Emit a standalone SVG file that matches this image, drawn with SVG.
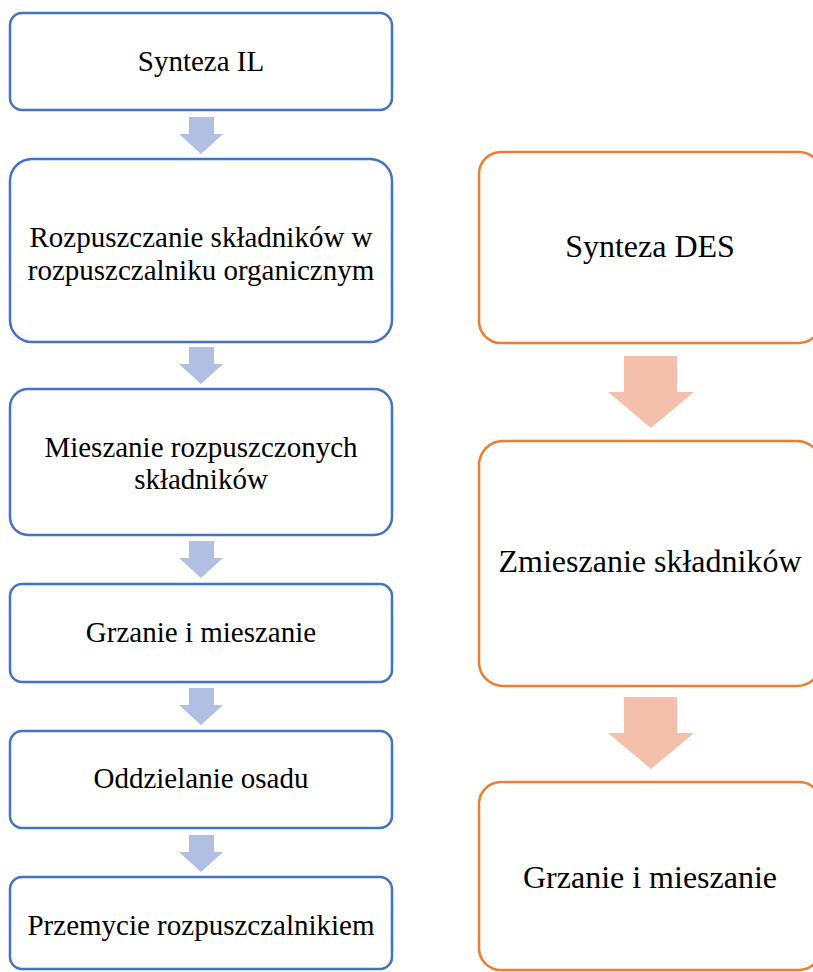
<svg xmlns="http://www.w3.org/2000/svg" width="813" height="972" viewBox="0 0 813 972">
  <style>
    .il { fill: #ffffff; stroke: #4472C4; stroke-width: 2.5; }
    .des { fill: #ffffff; stroke: #ED7D31; stroke-width: 2.5; }
    .arr-il { fill: #B1BFE2; }
    .arr-des { fill: #F4C0AC; }
    text { font-family: "Liberation Serif", "Times New Roman", serif; fill: #000000; text-anchor: middle; }
    .t29 { font-size: 29px; }
    .t32 { font-size: 32px; }
  </style>
  <defs>
    <!-- block arrows, drawn pointing down from origin -->
    <path id="arrow-small" d="M -12 0 H 13 V 17 H 22 L 0 37 L -22 17 H -12 Z"/>
    <path id="arrow-large" d="M -27 0 H 26 V 36 H 43 L 0 72 L -43 36 H -27 Z"/>
  </defs>

  <rect width="813" height="972" fill="#ffffff"/>

  <!-- connectors -->
  <g id="connectors">
    <use href="#arrow-small" class="arr-il" x="201" y="117"/>
    <use href="#arrow-small" class="arr-il" x="201" y="347"/>
    <use href="#arrow-small" class="arr-il" x="201" y="541"/>
    <use href="#arrow-small" class="arr-il" x="201" y="688"/>
    <use href="#arrow-small" class="arr-il" x="201" y="835"/>
    <use href="#arrow-large" class="arr-des" x="651" y="356"/>
    <use href="#arrow-large" class="arr-des" x="651" y="697"/>
  </g>

  <!-- IL synthesis column -->
  <g id="il-1">
    <rect class="il" x="10" y="13" width="382" height="97" rx="12"/>
    <text class="t29" x="201" y="71">Synteza IL</text>
  </g>
  <g id="il-2">
    <rect class="il" x="10" y="159" width="382" height="183" rx="22"/>
    <text class="t29" x="201" y="247">Rozpuszczanie składników w</text>
    <text class="t29" x="201" y="280">rozpuszczalniku organicznym</text>
  </g>
  <g id="il-3">
    <rect class="il" x="10" y="389" width="382" height="146" rx="18"/>
    <text class="t29" x="201" y="457">Mieszanie rozpuszczonych</text>
    <text class="t29" x="201" y="489">składników</text>
  </g>
  <g id="il-4">
    <rect class="il" x="10" y="584" width="382" height="98" rx="12"/>
    <text class="t29" x="201" y="642">Grzanie i mieszanie</text>
  </g>
  <g id="il-5">
    <rect class="il" x="10" y="731" width="382" height="97" rx="12"/>
    <text class="t29" x="201" y="788">Oddzielanie osadu</text>
  </g>
  <g id="il-6">
    <rect class="il" x="10" y="877" width="382" height="92" rx="12"/>
    <text class="t29" x="201" y="935">Przemycie rozpuszczalnikiem</text>
  </g>

  <!-- DES synthesis column -->
  <g id="des-1">
    <rect class="des" x="479" y="152" width="342" height="191" rx="22"/>
    <text class="t32" x="650" y="257">Synteza DES</text>
  </g>
  <g id="des-2">
    <rect class="des" x="479" y="441" width="342" height="245" rx="24"/>
    <text class="t32" x="650" y="572">Zmieszanie składników</text>
  </g>
  <g id="des-3">
    <rect class="des" x="479" y="782" width="342" height="188" rx="22"/>
    <text class="t32" x="650" y="888">Grzanie i mieszanie</text>
  </g>
</svg>
